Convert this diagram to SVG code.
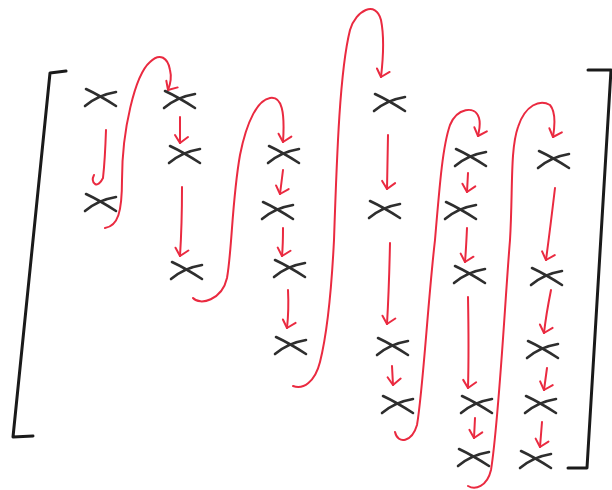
<svg xmlns="http://www.w3.org/2000/svg" width="612" height="490" viewBox="0 0 612 490">
<style>
.x{fill:none;stroke:#2e2e2e;stroke-width:2.6;stroke-linecap:round}
.br{fill:none;stroke:#1a1a1a;stroke-width:3;stroke-linecap:round;stroke-linejoin:round}
.ar{fill:none;stroke:#ea2a40;stroke-width:2;stroke-linecap:round}
</style>
<defs>
<marker id="ah" markerUnits="userSpaceOnUse" markerWidth="20" markerHeight="20" viewBox="-12 -10 14 20" refX="0" refY="0" orient="auto">
<path d="M-8,5 L0,0 L-6,-8" fill="none" stroke="#ea2a40" stroke-width="2" stroke-linecap="round" stroke-linejoin="round"/>
</marker>
<path id="xm" d="M-15,-9 Q-2,-3 15,8 M-16,8 Q-3,-3 15,-6"/>
</defs>
<rect width="612" height="490" fill="#fff"/>
<g id="brackets">
<path class="br" d="M66,71 L50,73 L13,437 L33,436"/>
<path class="br" d="M588,70 L611,70 L587,468 L568,468"/>
</g>
<g id="connectors">
<path class="ar" d="M106,130 Q105,160 103,178 Q99,186 95,184 Q91,181 94,175"/>
<path class="ar" marker-end="url(#ah)" d="M105,228 C118,226 122,212 122,180 C122,130 135,75 150,62 C160,52 168,58 170,70 C172,78 170,85 168,90"/>
<path class="ar" marker-end="url(#ah)" d="M180,117 L180,143"/>
<path class="ar" marker-end="url(#ah)" d="M182,187 Q182,225 180,256"/>
<path class="ar" marker-end="url(#ah)" d="M193,298 C200,306 222,300 227,278 C232,250 232,200 240,155 C247,120 258,100 270,98 C282,96 285,112 283,142"/>
<path class="ar" marker-end="url(#ah)" d="M283,170 L280,194"/>
<path class="ar" marker-end="url(#ah)" d="M283,228 Q283,245 282,256"/>
<path class="ar" marker-end="url(#ah)" d="M288,290 Q289,310 287,328"/>
<path class="ar" marker-end="url(#ah)" d="M293,386 C303,390 315,382 320,362 C328,330 332,280 334,240 C337,150 340,70 350,30 C356,10 376,0 381,20 C385,40 383,60 381,77"/>
<path class="ar" marker-end="url(#ah)" d="M388,135 L387,189"/>
<path class="ar" marker-end="url(#ah)" d="M390,243 Q389,290 387,324"/>
<path class="ar" marker-end="url(#ah)" d="M392,366 L393,385"/>
<path class="ar" marker-end="url(#ah)" d="M395,432 C398,445 412,442 417,425 C423,390 428,300 435,240 C440,180 443,145 450,125 C457,108 475,105 479,118 C481,125 479,130 478,136"/>
<path class="ar" marker-end="url(#ah)" d="M468,173 L467,192"/>
<path class="ar" marker-end="url(#ah)" d="M467,228 Q466,250 465,262"/>
<path class="ar" marker-end="url(#ah)" d="M468,297 Q469,350 468,388"/>
<path class="ar" marker-end="url(#ah)" d="M475,418 L474,438"/>
<path class="ar" marker-end="url(#ah)" d="M468,486 C475,490 487,487 491,470 C499,420 505,300 510,240 C513,190 510,150 518,127 C525,105 540,99 550,105 C556,112 555,125 553,137"/>
<path class="ar" marker-end="url(#ah)" d="M555,188 Q550,230 546,260"/>
<path class="ar" marker-end="url(#ah)" d="M551,290 Q546,315 544,333"/>
<path class="ar" marker-end="url(#ah)" d="M547,368 L544,390"/>
<path class="ar" marker-end="url(#ah)" d="M542,422 L540,447"/>
</g>
<g id="c1r1"><use href="#xm" class="x" transform="translate(101,98)"/></g>
<g id="c1r2"><use href="#xm" class="x" transform="translate(101,203)"/></g>
<g id="c2r1"><use href="#xm" class="x" transform="translate(180,100)"/></g>
<g id="c2r2"><use href="#xm" class="x" transform="translate(185,155)"/></g>
<g id="c2r3"><use href="#xm" class="x" transform="translate(187,271)"/></g>
<g id="c3r1"><use href="#xm" class="x" transform="translate(284,155)"/></g>
<g id="c3r2"><use href="#xm" class="x" transform="translate(278,211)"/></g>
<g id="c3r3"><use href="#xm" class="x" transform="translate(290,269)"/></g>
<g id="c3r4"><use href="#xm" class="x" transform="translate(291,346)"/></g>
<g id="c4r1"><use href="#xm" class="x" transform="translate(390,103)"/></g>
<g id="c4r2"><use href="#xm" class="x" transform="translate(385,210)"/></g>
<g id="c4r3"><use href="#xm" class="x" transform="translate(393,347)"/></g>
<g id="c4r4"><use href="#xm" class="x" transform="translate(398,405)"/></g>
<g id="c5r1"><use href="#xm" class="x" transform="translate(471,158)"/></g>
<g id="c5r2"><use href="#xm" class="x" transform="translate(461,211)"/></g>
<g id="c5r3"><use href="#xm" class="x" transform="translate(470,275)"/></g>
<g id="c5r4"><use href="#xm" class="x" transform="translate(477,405)"/></g>
<g id="c5r5"><use href="#xm" class="x" transform="translate(474,458)"/></g>
<g id="c6r1"><use href="#xm" class="x" transform="translate(554,160)"/></g>
<g id="c6r2"><use href="#xm" class="x" transform="translate(547,277)"/></g>
<g id="c6r3"><use href="#xm" class="x" transform="translate(543,350)"/></g>
<g id="c6r4"><use href="#xm" class="x" transform="translate(541,405)"/></g>
<g id="c6r5"><use href="#xm" class="x" transform="translate(536,460)"/></g>
</svg>
